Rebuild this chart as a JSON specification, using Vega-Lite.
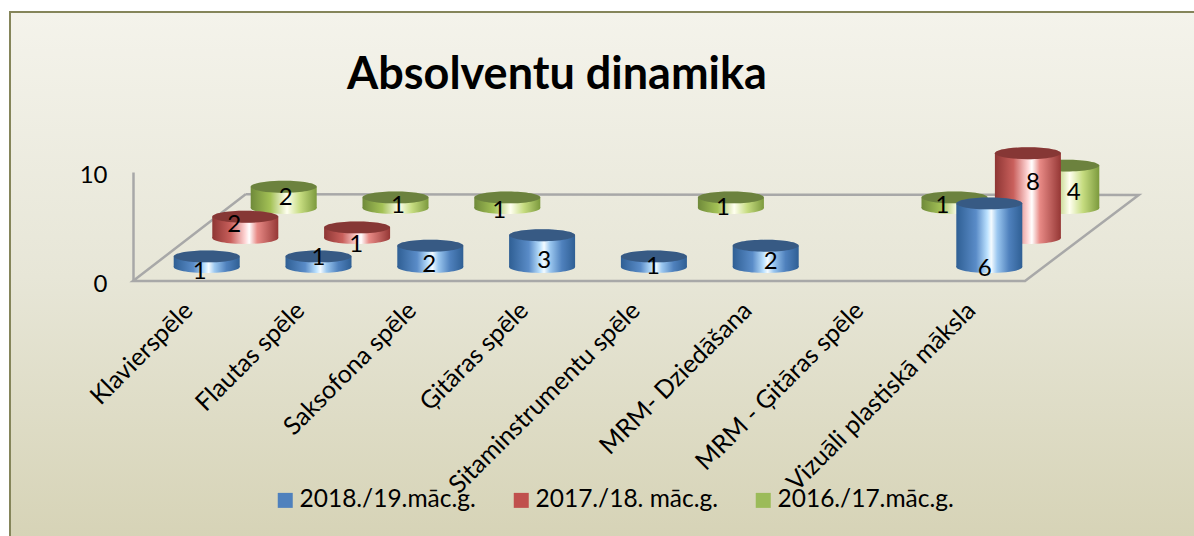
{"$schema":"https://vega.github.io/schema/vega-lite/v6.json","width":1190,"height":530,"autosize":"none","padding":{"left":10,"top":12,"right":0,"bottom":0},"background":"white",
"view":{"fill":{"x1":0,"y1":0,"x2":0,"y2":1,"gradient":"linear","stops":[{"offset":0,"color":"#F4F3EB"},{"offset":0.5,"color":"#E7E6D7"},{"offset":1,"color":"#D6D3B6"}]},"stroke":"#85855A","strokeWidth":2},
"config":{"font":"Lato","text":{"font":"Lato","fontSize":24,"color":"black","baseline":"middle"}},
"title":{"text":"Absolventu dinamika","font":"Lato","fontSize":45,"fontWeight":"bold","color":"black","anchor":"start","frame":"group","dx":337,"dy":86,"offset":0},
"datasets":{"chart":[
{"category":"Klavierspēle","series":"2018./19.māc.g.","value":1},{"category":"Flautas spēle","series":"2018./19.māc.g.","value":1},{"category":"Saksofona spēle","series":"2018./19.māc.g.","value":2},{"category":"Ģitāras spēle","series":"2018./19.māc.g.","value":3},{"category":"Sitaminstrumentu spēle","series":"2018./19.māc.g.","value":1},{"category":"MRM- Dziedāšana","series":"2018./19.māc.g.","value":2},{"category":"Vizuāli plastiskā māksla","series":"2018./19.māc.g.","value":6},
{"category":"Klavierspēle","series":"2017./18. māc.g.","value":2},{"category":"Flautas spēle","series":"2017./18. māc.g.","value":1},{"category":"Vizuāli plastiskā māksla","series":"2017./18. māc.g.","value":8},
{"category":"Klavierspēle","series":"2016./17.māc.g.","value":2},{"category":"Flautas spēle","series":"2016./17.māc.g.","value":1},{"category":"Saksofona spēle","series":"2016./17.māc.g.","value":1},{"category":"Sitaminstrumentu spēle","series":"2016./17.māc.g.","value":1},{"category":"MRM - Ģitāras spēle","series":"2016./17.māc.g.","value":1},{"category":"Vizuāli plastiskā māksla","series":"2016./17.māc.g.","value":4}],
"floor":[{"i":0,"x":1.01,"y":7.95},{"i":1,"x":0,"y":0},{"i":2,"x":8,"y":0},{"i":3,"x":9.02,"y":7.9},{"i":4,"x":1.01,"y":7.95}]},
"resolve":{"scale":{"x":"independent","y":"independent"}},
"layer":[
{"data":{"name":"floor"},"mark":{"type":"line","stroke":"#A8A8A8","strokeWidth":2.5,"interpolate":"linear"},
"encoding":{"order":{"field":"i","type":"ordinal"},
"x":{"field":"x","type":"quantitative","axis":null,"scale":{"domain":[0,8],"range":[123,1015],"nice":false,"zero":false}},
"y":{"field":"y","type":"quantitative","scale":{"domain":[0,10],"range":[269,160],"nice":false},"axis":{"values":[0,10],"title":null,"grid":false,"ticks":false,"domainColor":"#A8A8A8","domainWidth":2.5,"offset":-123,"labelPadding":26,"labelFontSize":24,"labelColor":"black","labelFont":"Lato","labelOffset":3}}}},
{"data":{"name":"chart"},"transform":[{"filter":"datum.series==='2016./17.māc.g.'"}],
"encoding":{"x":{"field":"category","type":"nominal","axis":null,"scale":{"type":"band","domain":["Klavierspēle","Flautas spēle","Saksofona spēle","Ģitāras spēle","Sitaminstrumentu spēle","MRM- Dziedāšana","MRM - Ģitāras spēle","Vizuāli plastiskā māksla"],"range":[217.8,1112.2],"paddingInner":0,"paddingOuter":0}},
"y":{"field":"value","type":"quantitative","axis":null,"stack":null,"scale":{"domain":[0,10],"range":[196,90],"nice":false}}},
"layer":[
{"mark":{"type":"point","filled":true,"opacity":1,"size":4356,"shape":"M-1,0A1,0.18,0,1,1,1,0A1,0.18,0,1,1,-1,0Z","fill":{"x1":0,"y1":0,"x2":1,"y2":0,"gradient":"linear","stops":[{"offset":0,"color":"#6F8A3A"},{"offset":0.3,"color":"#A4C256"},{"offset":0.55,"color":"#FFFFF0"},{"offset":0.75,"color":"#C6DC80"},{"offset":1,"color":"#7C9A3D"}]}},"encoding":{"y":{"datum":0}}},
{"mark":{"type":"bar","width":66,"fill":{"x1":0,"y1":0,"x2":1,"y2":0,"gradient":"linear","stops":[{"offset":0,"color":"#6F8A3A"},{"offset":0.3,"color":"#A4C256"},{"offset":0.55,"color":"#FFFFF0"},{"offset":0.75,"color":"#C6DC80"},{"offset":1,"color":"#7C9A3D"}]}}},
{"mark":{"type":"point","filled":true,"opacity":1,"size":4356,"shape":"M-1,0A1,0.18,0,1,1,1,0A1,0.18,0,1,1,-1,0Z"},"encoding":{"color":{"field":"series","type":"nominal","scale":{"domain":["2018./19.māc.g.","2017./18. māc.g.","2016./17.māc.g."],"range":["#4F81BD","#C0504D","#9BBB59"]},"legend":{"title":null,"orient":"none","legendX":263,"legendY":476,"direction":"horizontal","columns":3,"symbolType":"square","symbolSize":225,"symbolOpacity":1,"labelFont":"Lato","labelFontSize":24.5,"labelColor":"black","labelLimit":300,"labelOffset":2,"columnPadding":33,"padding":0,"symbolStrokeWidth":0}}}},
{"mark":{"type":"point","filled":true,"opacity":0.3,"fill":"black","size":4356,"shape":"M-1,0A1,0.18,0,1,1,1,0A1,0.18,0,1,1,-1,0Z"}},
{"transform":[{"filter":"datum.category==='Klavierspēle'"}],"mark":{"type":"text","dx":2,"dy":11},"encoding":{"text":{"field":"value"}}},
{"transform":[{"filter":"datum.category==='Flautas spēle'"}],"mark":{"type":"text","dx":2.5,"dy":9},"encoding":{"text":{"field":"value"}}},
{"transform":[{"filter":"datum.category==='Saksofona spēle'"}],"mark":{"type":"text","dx":-8,"dy":13.6},"encoding":{"text":{"field":"value"}}},
{"transform":[{"filter":"datum.category==='Sitaminstrumentu spēle'"}],"mark":{"type":"text","dx":-8,"dy":10.6},"encoding":{"text":{"field":"value"}}},
{"transform":[{"filter":"datum.category==='MRM - Ģitāras spēle'"}],"mark":{"type":"text","dx":-12,"dy":9},"encoding":{"text":{"field":"value"}}},
{"transform":[{"filter":"datum.category==='Vizuāli plastiskā māksla'"}],"mark":{"type":"text","dx":7.5,"dy":27},"encoding":{"text":{"field":"value"}}}
]},
{"data":{"name":"chart"},"transform":[{"filter":"datum.series==='2017./18. māc.g.'"}],
"encoding":{"x":{"field":"category","type":"nominal","axis":null,"scale":{"type":"band","domain":["Klavierspēle","Flautas spēle","Saksofona spēle","Ģitāras spēle","Sitaminstrumentu spēle","MRM- Dziedāšana","MRM - Ģitāras spēle","Vizuāli plastiskā māksla"],"range":[179.4,1073.8],"paddingInner":0,"paddingOuter":0}},
"y":{"field":"value","type":"quantitative","axis":null,"stack":null,"scale":{"domain":[0,10],"range":[226,120],"nice":false}}},
"layer":[
{"mark":{"type":"point","filled":true,"opacity":1,"size":4356,"shape":"M-1,0A1,0.18,0,1,1,1,0A1,0.18,0,1,1,-1,0Z","fill":{"x1":0,"y1":0,"x2":1,"y2":0,"gradient":"linear","stops":[{"offset":0,"color":"#8E3634"},{"offset":0.28,"color":"#C9605C"},{"offset":0.5,"color":"#FFD8D8"},{"offset":0.56,"color":"#FFFFFF"},{"offset":0.68,"color":"#E88A86"},{"offset":1,"color":"#953735"}]}},"encoding":{"y":{"datum":0}}},
{"mark":{"type":"bar","width":66,"fill":{"x1":0,"y1":0,"x2":1,"y2":0,"gradient":"linear","stops":[{"offset":0,"color":"#8E3634"},{"offset":0.28,"color":"#C9605C"},{"offset":0.5,"color":"#FFD8D8"},{"offset":0.56,"color":"#FFFFFF"},{"offset":0.68,"color":"#E88A86"},{"offset":1,"color":"#953735"}]}}},
{"mark":{"type":"point","filled":true,"opacity":1,"size":4356,"shape":"M-1,0A1,0.18,0,1,1,1,0A1,0.18,0,1,1,-1,0Z"},"encoding":{"color":{"field":"series","type":"nominal"}}},
{"mark":{"type":"point","filled":true,"opacity":0.3,"fill":"black","size":4356,"shape":"M-1,0A1,0.18,0,1,1,1,0A1,0.18,0,1,1,-1,0Z"}},
{"transform":[{"filter":"datum.category==='Klavierspēle'"}],"mark":{"type":"text","dx":-11,"dy":8},"encoding":{"text":{"field":"value"}}},
{"transform":[{"filter":"datum.category==='Flautas spēle'"}],"mark":{"type":"text","dx":-1,"dy":18},"encoding":{"text":{"field":"value"}}},
{"transform":[{"filter":"datum.category==='Vizuāli plastiskā māksla'"}],"mark":{"type":"text","dx":5,"dy":30},"encoding":{"text":{"field":"value"}}}
]},
{"data":{"name":"chart"},"transform":[{"filter":"datum.series==='2018./19.māc.g.'"}],
"encoding":{"x":{"field":"category","type":"nominal","axis":{"title":null,"domain":false,"ticks":false,"labelAngle":-45,"labelAlign":"right","labelBaseline":"middle","labelOverlap":false,"labelFont":"Lato","labelFontSize":25,"labelColor":"black","labelLimit":400,"offset":-261,"labelPadding":25,"labelOffset":-18},"scale":{"type":"band","domain":["Klavierspēle","Flautas spēle","Saksofona spēle","Ģitāras spēle","Sitaminstrumentu spēle","MRM- Dziedāšana","MRM - Ģitāras spēle","Vizuāli plastiskā māksla"],"range":[140.8,1035.2],"paddingInner":0,"paddingOuter":0}},
"y":{"field":"value","type":"quantitative","axis":null,"stack":null,"scale":{"domain":[0,10],"range":[255,149],"nice":false}}},
"layer":[
{"mark":{"type":"point","filled":true,"opacity":1,"size":4356,"shape":"M-1,0A1,0.18,0,1,1,1,0A1,0.18,0,1,1,-1,0Z","fill":{"x1":0,"y1":0,"x2":1,"y2":0,"gradient":"linear","stops":[{"offset":0,"color":"#2F5F94"},{"offset":0.3,"color":"#5A8CC8"},{"offset":0.47,"color":"#BCE2FF"},{"offset":0.53,"color":"#F4FBFF"},{"offset":0.62,"color":"#9CC8F0"},{"offset":0.8,"color":"#4F81BD"},{"offset":1,"color":"#2F5F94"}]}},"encoding":{"y":{"datum":0}}},
{"mark":{"type":"bar","width":66,"fill":{"x1":0,"y1":0,"x2":1,"y2":0,"gradient":"linear","stops":[{"offset":0,"color":"#2F5F94"},{"offset":0.3,"color":"#5A8CC8"},{"offset":0.47,"color":"#BCE2FF"},{"offset":0.53,"color":"#F4FBFF"},{"offset":0.62,"color":"#9CC8F0"},{"offset":0.8,"color":"#4F81BD"},{"offset":1,"color":"#2F5F94"}]}}},
{"mark":{"type":"point","filled":true,"opacity":1,"size":4356,"shape":"M-1,0A1,0.18,0,1,1,1,0A1,0.18,0,1,1,-1,0Z"},"encoding":{"color":{"field":"series","type":"nominal"}}},
{"mark":{"type":"point","filled":true,"opacity":0.3,"fill":"black","size":4356,"shape":"M-1,0A1,0.18,0,1,1,1,0A1,0.18,0,1,1,-1,0Z"}},
{"transform":[{"filter":"datum.category==='Klavierspēle'"}],"mark":{"type":"text","dx":-7,"dy":15.6},"encoding":{"text":{"field":"value"}}},
{"transform":[{"filter":"datum.category==='Flautas spēle'"}],"mark":{"type":"text","dx":0,"dy":2},"encoding":{"text":{"field":"value"}}},
{"transform":[{"filter":"datum.category==='Saksofona spēle'"}],"mark":{"type":"text","dx":-1,"dy":19},"encoding":{"text":{"field":"value"}}},
{"transform":[{"filter":"datum.category==='Ģitāras spēle'"}],"mark":{"type":"text","dx":2,"dy":26},"encoding":{"text":{"field":"value"}}},
{"transform":[{"filter":"datum.category==='Sitaminstrumentu spēle'"}],"mark":{"type":"text","dx":-1,"dy":11},"encoding":{"text":{"field":"value"}}},
{"transform":[{"filter":"datum.category==='MRM- Dziedāšana'"}],"mark":{"type":"text","dx":5,"dy":16},"encoding":{"text":{"field":"value"}}},
{"transform":[{"filter":"datum.category==='Vizuāli plastiskā māksla'"}],"mark":{"type":"text","dx":-4.5,"dy":66},"encoding":{"text":{"field":"value"}}}
]}
]}
